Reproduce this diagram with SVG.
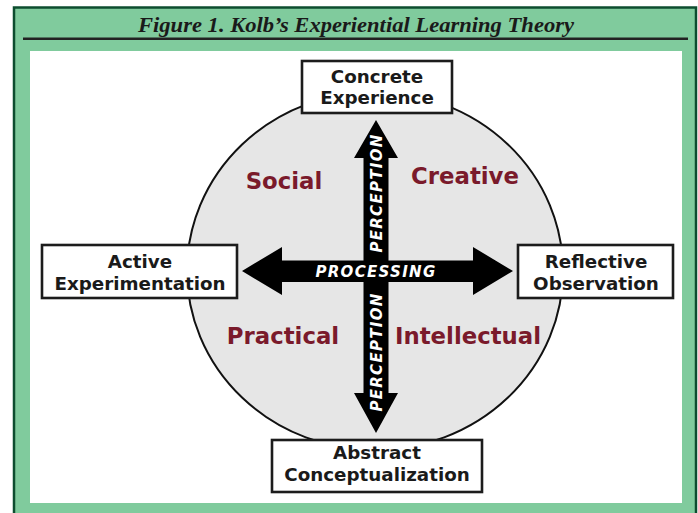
<svg xmlns="http://www.w3.org/2000/svg" width="698" height="513" viewBox="0 0 698 513">
<style>
.box{fill:#ffffff;stroke:#1c1c1c;stroke-width:2.6}
.lbl{font-family:"DejaVu Sans","Verdana",sans-serif;font-weight:bold;font-size:18.3px;fill:#1a1a1a;text-anchor:middle}
.quad{font-family:"DejaVu Sans","Verdana",sans-serif;font-weight:bold;font-size:22.8px;fill:#7a1a2b;text-anchor:middle}
.axis{font-family:"DejaVu Sans","Verdana",sans-serif;font-weight:bold;font-style:italic;font-size:15px;fill:#ffffff;text-anchor:middle;letter-spacing:1.3px}
.arrow{fill:#000000}
</style>
<rect x="0" y="0" width="698" height="513" fill="#ffffff"/>
<g id="frame">
<rect x="14" y="7.5" width="682" height="520" fill="#80cb9d" stroke="#0d4d2f" stroke-width="2.5"/>
<line x1="23" y1="38.8" x2="688" y2="38.8" stroke="#222222" stroke-width="2.6"/>
<text x="356" y="32" font-family="'Liberation Serif','Times New Roman',serif" font-weight="bold" font-style="italic" font-size="22" fill="#1a1a1a" text-anchor="middle" textLength="436" lengthAdjust="spacingAndGlyphs">Figure 1. Kolb’s Experiential Learning Theory</text>
<rect x="30" y="51" width="652" height="452" fill="#ffffff"/>
</g>
<g id="cycle">
<ellipse cx="375" cy="271" rx="188" ry="179" fill="#e6e6e6" stroke="#111111" stroke-width="2"/>
</g>
<g id="connectors">
<polygon class="arrow" points="242,271 282,247 282,260.5 473,260.5 473,247 513,271 473,295 473,282 282,282 282,295"/>
<polygon class="arrow" points="376,120 398,158 388.5,158 388.5,393 398,393 376,433 354,393 363.5,393 363.5,158 354,158"/>
<text class="axis" x="376" y="276.5">PROCESSING</text>
<text class="axis" transform="translate(381.5,193) rotate(-90)">PERCEPTION</text>
<text class="axis" transform="translate(381.5,352) rotate(-90)">PERCEPTION</text>
</g>
<g id="quadrants">
<text class="quad" x="284" y="189">Social</text>
<text class="quad" x="465" y="184">Creative</text>
<text class="quad" x="283" y="344">Practical</text>
<text class="quad" x="468" y="344">Intellectual</text>
</g>
<g id="concrete-experience">
<rect class="box" x="302" y="61" width="150" height="52"/>
<text class="lbl" x="377" y="83">Concrete</text>
<text class="lbl" x="377" y="103.5">Experience</text>
</g>
<g id="active-experimentation">
<rect class="box" x="42" y="245" width="195" height="53"/>
<text class="lbl" x="140" y="268">Active</text>
<text class="lbl" x="140" y="290">Experimentation</text>
</g>
<g id="reflective-observation">
<rect class="box" x="518" y="245" width="155" height="53"/>
<text class="lbl" x="596" y="268">Reflective</text>
<text class="lbl" x="596" y="290">Observation</text>
</g>
<g id="abstract-conceptualization">
<rect class="box" x="272" y="440" width="210" height="52"/>
<text class="lbl" x="377" y="459">Abstract</text>
<text class="lbl" x="377" y="481">Conceptualization</text>
</g>
</svg>
